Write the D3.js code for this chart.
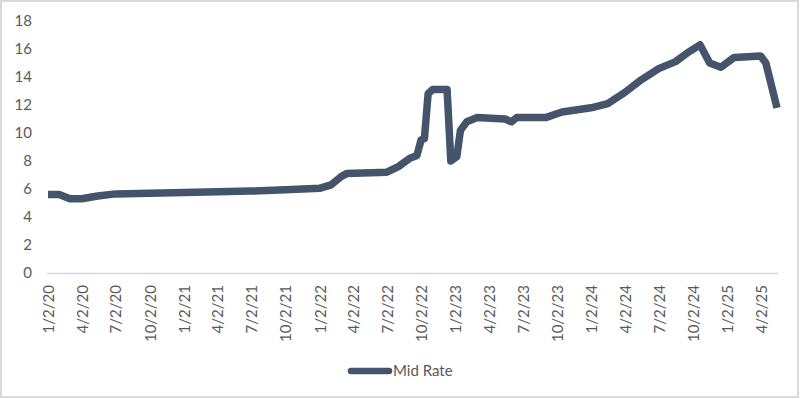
<!DOCTYPE html>
<html><head><meta charset="utf-8">
<script src="https://cdn.jsdelivr.net/npm/d3@7"></script>
<style>body{margin:0;background:#fff}</style>
</head><body>
<svg id="c" width="800" height="399"></svg>
<script>
const dates = ["2020-01-02","2020-02-01","2020-03-01","2020-04-01","2020-05-15","2020-07-01","2020-10-01","2021-01-01","2021-04-01","2021-07-01","2021-10-01","2022-01-01","2022-02-01","2022-03-01","2022-03-15","2022-07-01","2022-08-01","2022-09-01","2022-09-20","2022-10-01","2022-10-10","2022-10-20","2022-11-01","2022-12-10","2022-12-20","2023-01-05","2023-01-15","2023-02-01","2023-03-01","2023-05-15","2023-06-01","2023-06-15","2023-09-01","2023-10-15","2024-01-01","2024-02-15","2024-04-01","2024-05-15","2024-07-01","2024-08-15","2024-09-15","2024-10-20","2024-11-15","2024-12-15","2025-01-20","2025-04-01","2025-04-15","2025-05-15"];
const midRate = [5.6,5.6,5.3,5.3,5.5,5.65,5.7,5.75,5.8,5.85,5.95,6.05,6.3,6.9,7.1,7.2,7.6,8.2,8.4,9.5,9.6,12.8,13.1,13.1,8.0,8.3,10.2,10.8,11.1,11.0,10.8,11.1,11.1,11.5,11.8,12.1,12.9,13.8,14.6,15.1,15.7,16.3,15.0,14.7,15.4,15.5,15.0,11.8];
const yTicks = [0,2,4,6,8,10,12,14,16,18];
const xTickDates = ["2020-01-02","2020-04-02","2020-07-02","2020-10-02","2021-01-02","2021-04-02","2021-07-02","2021-10-02","2022-01-02","2022-04-02","2022-07-02","2022-10-02","2023-01-02","2023-04-02","2023-07-02","2023-10-02","2024-01-02","2024-04-02","2024-07-02","2024-10-02","2025-01-02","2025-04-02"];
const seriesName = "Mid Rate";

const parse = d3.timeParse("%Y-%m-%d");
const data = dates.map((d,i)=>({date:parse(d), v:midRate[i]}));
const svg = d3.select("#c");
const font = "Lato, 'Open Sans', sans-serif";
const color = "#44546A";
const textColor = "#595959";

svg.append("rect").attr("x",1).attr("y",1).attr("width",797).attr("height",396)
  .attr("fill","#fff").attr("stroke","#d9d9d9").attr("stroke-width",2);

const x = d3.scaleTime().domain([data[0].date, data[data.length-1].date]).range([48,777]);
const y = d3.scaleLinear().domain([0,18]).range([273,21]);

// y axis labels
const ya = svg.append("g").attr("transform","translate(32,0)")
  .call(d3.axisLeft(y).tickValues(yTicks).tickSize(0).tickPadding(0));
ya.select(".domain").remove();
ya.selectAll("text").attr("font-family",font).attr("font-size",15).attr("fill",textColor);

// x axis
const xa = svg.append("g").attr("transform","translate(0,273)")
  .call(d3.axisBottom(x).tickValues(xTickDates.map(parse)).tickSize(0)
     .tickFormat(d3.timeFormat("%-m/%-d/%y")));
xa.select(".domain").remove();
xa.selectAll("text").attr("font-family",font).attr("font-size",15).attr("fill",textColor)
  .attr("transform","rotate(-90)").attr("text-anchor","end")
  .attr("x",-12).attr("y",0).attr("dy","0.35em");
svg.append("line").attr("x1",47).attr("x2",778).attr("y1",273.5).attr("y2",273.5)
  .attr("stroke","#d9d9d9").attr("stroke-width",1.5);

// line
svg.append("path").datum(data)
  .attr("d", d3.line().x(d=>x(d.date)).y(d=>y(d.v)))
  .attr("fill","none").attr("stroke",color).attr("stroke-width",7.5)
  .attr("stroke-linejoin","round").attr("stroke-linecap","butt");

// legend
svg.append("line").attr("x1",351).attr("x2",389).attr("y1",371).attr("y2",371)
  .attr("stroke",color).attr("stroke-width",6.5).attr("stroke-linecap","round");
svg.append("text").attr("x",393).attr("y",371).attr("dy","0.35em")
  .attr("font-family",font).attr("font-size",15).attr("fill",textColor).text(seriesName);
</script>
</body></html>
